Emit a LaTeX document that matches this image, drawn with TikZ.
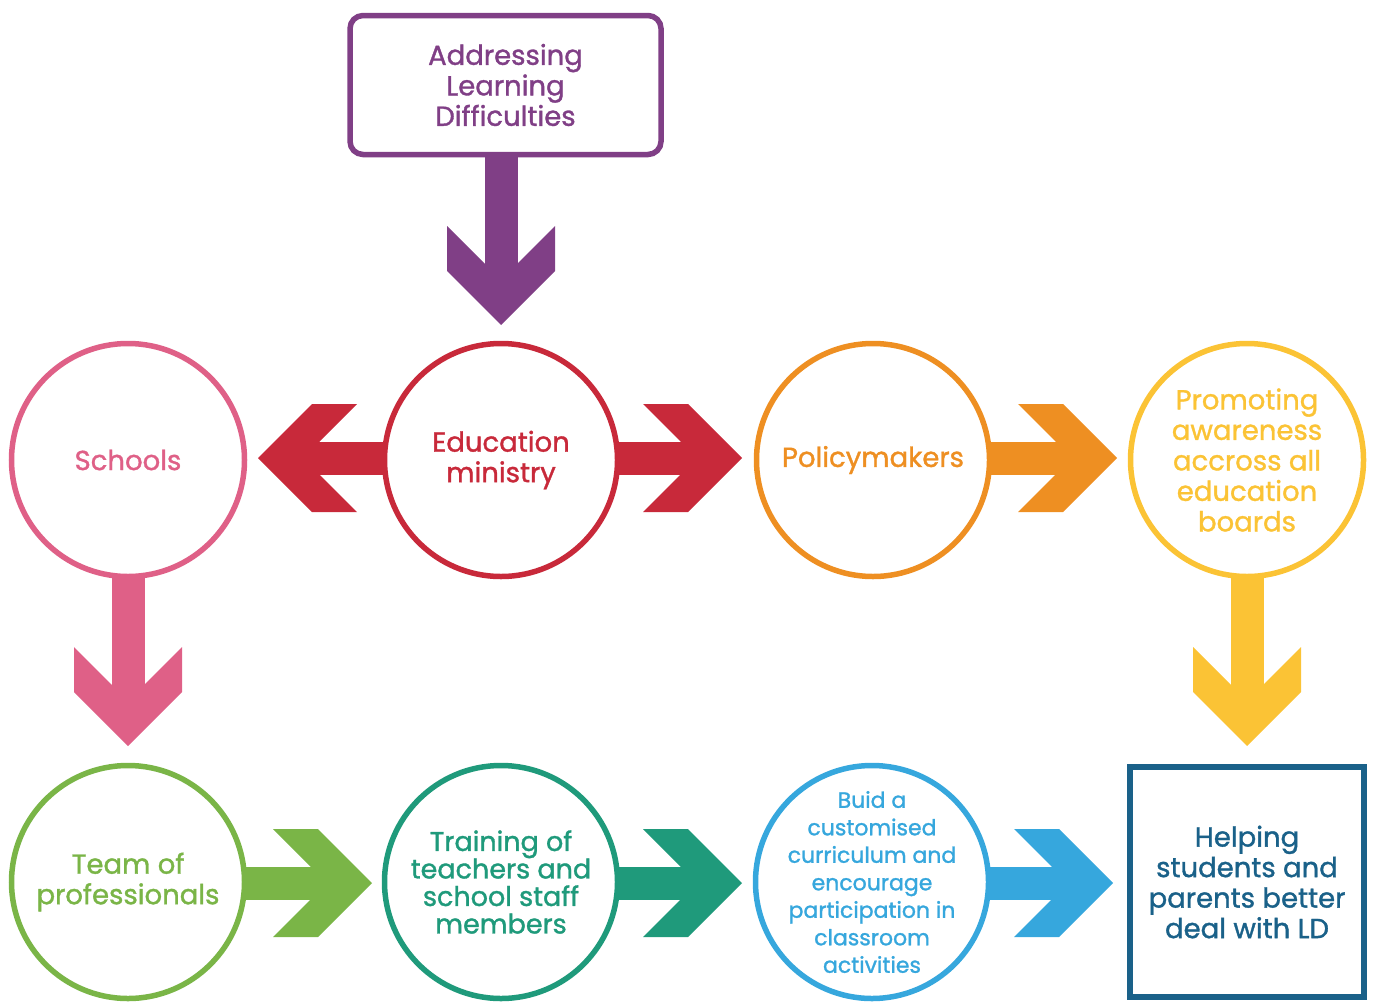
\documentclass[tikz,border=0pt]{standalone}
\usepackage{fontspec}
\setmainfont{Poppins}[FakeBold=1.2]
\usetikzlibrary{backgrounds}
\definecolor{cpurple}{HTML}{803F86}
\definecolor{cred}{HTML}{C8293A}
\definecolor{cpink}{HTML}{DF6087}
\definecolor{corange}{HTML}{EE8F22}
\definecolor{cyellow}{HTML}{FBC335}
\definecolor{cgreen}{HTML}{7AB547}
\definecolor{cteal}{HTML}{1F9A7B}
\definecolor{cblue}{HTML}{36A7DD}
\definecolor{cnavy}{HTML}{1A6189}
\begin{document}
\begin{tikzpicture}[x=1pt,y=-1pt,
  maintxt/.style={font=\fontsize{27.5}{30.5}\selectfont},
  circ/.style={circle, draw, line width=5.5pt, fill=white, minimum size=233pt, inner sep=-30pt, align=center, maintxt},
  smalltxt/.style={font=\fontsize{27}{27.5}\selectfont},
  tinytxt/.style={font=\fontsize{22}{27.5}\selectfont},
  shaft/.style={line width=33pt, shorten >=40pt},
  chevhead/.pic={\fill (0,0) -- (-54,54) -- (-99,54) -- (-61.5,16.5) -- (-61.5,-16.5) -- (-99,-54) -- (-54,-54) -- cycle;}
]
\useasboundingbox (0,0) rectangle (1375,1001);
% nodes
\node[draw=cpurple, text=cpurple, line width=5.5pt, rounded corners=13pt, fill=white,
  minimum width=311pt, minimum height=139pt, inner sep=0pt, align=center, maintxt] (top) at (505.5,85)
  {Addressing\\Learning\\Difficulties};
\node[circ, draw=cpink, text=cpink] (schools) at (128,460) {Schools};
\node[circ, draw=cred, text=cred] (edu) at (501,460) {Education\\ministry};
\node[circ, draw=corange, text=corange] (poli) at (873,460) {Policymakers};
\node[circ, draw=cyellow, text=cyellow] (promo) at (1247,460) {Promoting\\awareness\\accross all\\education\\boards};
\node[circ, draw=cgreen, text=cgreen] (team) at (128,882) {Team of\\professionals};
\node[circ, draw=cteal, text=cteal, smalltxt] (train) at (501,882) {Training of\\teachers and\\school staff\\members};
\node[circ, draw=cblue, text=cblue, tinytxt] (buid) at (872,882) {Buid a\\customised\\curriculum and\\encourage\\participation in\\classroom\\activities};
\node[draw=cnavy, text=cnavy, line width=6pt, fill=white, minimum width=234pt, minimum height=230pt,
  inner sep=0pt, align=center, maintxt] (help) at (1247,882)
  {Helping\\students and\\parents better\\deal with LD};
% tips
\coordinate (tipP) at (501,325);
\coordinate (tipL) at (258,458);
\coordinate (tipR) at (742,458);
\coordinate (tipO) at (1117,458);
\coordinate (tipPk) at (128,746);
\coordinate (tipY) at (1247,746);
\coordinate (tipG) at (372,883);
\coordinate (tipT) at (742,883);
\coordinate (tipB) at (1113,883);
\begin{scope}[on background layer]
  \draw[shaft, cpurple] (tipP |- top.center) -- (tipP);
  \pic[color=cpurple, rotate=-90] at (tipP) {chevhead};
  \draw[shaft, cred] (edu.center |- tipL) -- (tipL);
  \pic[color=cred, rotate=180] at (tipL) {chevhead};
  \draw[shaft, cred] (edu.center |- tipR) -- (tipR);
  \pic[color=cred] at (tipR) {chevhead};
  \draw[shaft, corange] (poli.center |- tipO) -- (tipO);
  \pic[color=corange] at (tipO) {chevhead};
  \draw[shaft, cpink] (schools.center) -- (tipPk);
  \pic[color=cpink, rotate=-90] at (tipPk) {chevhead};
  \draw[shaft, cyellow] (promo.center) -- (tipY);
  \pic[color=cyellow, rotate=-90] at (tipY) {chevhead};
  \draw[shaft, cgreen] (team.center |- tipG) -- (tipG);
  \pic[color=cgreen] at (tipG) {chevhead};
  \draw[shaft, cteal] (train.center |- tipT) -- (tipT);
  \pic[color=cteal] at (tipT) {chevhead};
  \draw[shaft, cblue] (buid.center |- tipB) -- (tipB);
  \pic[color=cblue] at (tipB) {chevhead};
\end{scope}
\end{tikzpicture}
\end{document}
